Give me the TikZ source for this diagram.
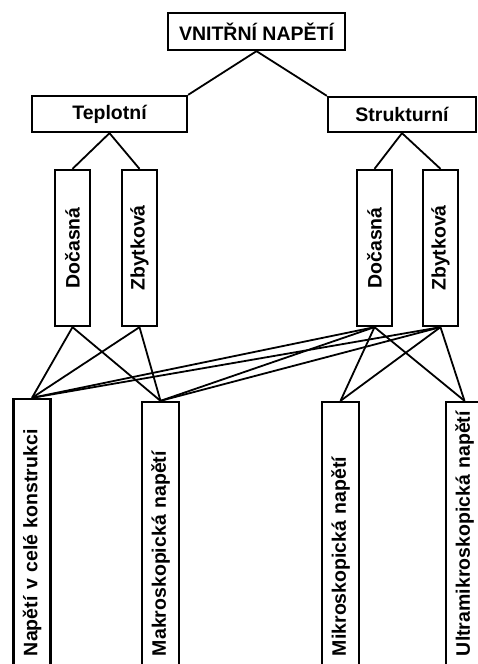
\documentclass[tikz,border=0pt]{standalone}
\usepackage{fontspec}
\setmainfont{Liberation Sans}
\begin{document}
\begin{tikzpicture}[x=1pt,y=-1pt,
  box/.style={draw, line width=2.3pt, inner sep=0pt, font=\fontsize{19.5}{21}\selectfont\bfseries},
  vbox/.style={box, rotate=90, minimum width=156pt, minimum height=35pt},
  lbox/.style={box, rotate=90, minimum height=37pt, inner xsep=12pt, align=left},
  link/.style={line width=1.8pt}]
\fill[white] (0,0) rectangle (478,664);
\useasboundingbox (0,0) rectangle (478,664);
% top level
\node[box, minimum width=177pt, minimum height=37pt] (top) at (256.5,31.5) {VNITŘNÍ NAPĚTÍ};
% second level
\node[box, minimum width=155pt, minimum height=36pt] (tep) at (109.5,114) {Teplotní};
\node[box, minimum width=148pt, minimum height=35pt] (str) at (402,114.5) {Strukturní};
% third level
\node[vbox] (td) at (72.5,248) {Dočasná};
\node[vbox] (tz) at (139.5,248) {Zbytková};
\node[vbox] (sd) at (374.5,248) {Dočasná};
\node[vbox] (sz) at (440.5,248) {Zbytková};
% bottom level
\node[lbox, text width=245pt] (n)  at (32,533.5)  {\mbox{Napětí v celé konstrukci}};
\node[lbox, text width=242pt] (m)  at (160.5,535) {\mbox{Makroskopická napětí}};
\node[lbox, text width=242pt] (mi) at (340.5,535) {\mbox{Mikroskopická napětí}};
\node[lbox, text width=242pt] (u)  at (464.5,535) {\mbox{Ultramikroskopická napětí}};
% connectors
\draw[link] (top.south) -- (tep.north east);
\draw[link] (top.south) -- (str.north west);
\draw[link] (tep.south) -- (td.east);
\draw[link] (tep.south) -- (tz.east);
\draw[link] (str.south) -- (sd.east);
\draw[link] (str.south) -- (sz.east);
\foreach \s in {td,tz}{
  \draw[link] (\s.west) -- (n.east);
  \draw[link] (\s.west) -- (m.east);
}
\foreach \s in {sd,sz}{
  \draw[link] (\s.west) -- (n.east);
  \draw[link] (\s.west) -- (m.east);
  \draw[link] (\s.west) -- (mi.east);
  \draw[link] (\s.west) -- (u.east);
}
\end{tikzpicture}
\end{document}
